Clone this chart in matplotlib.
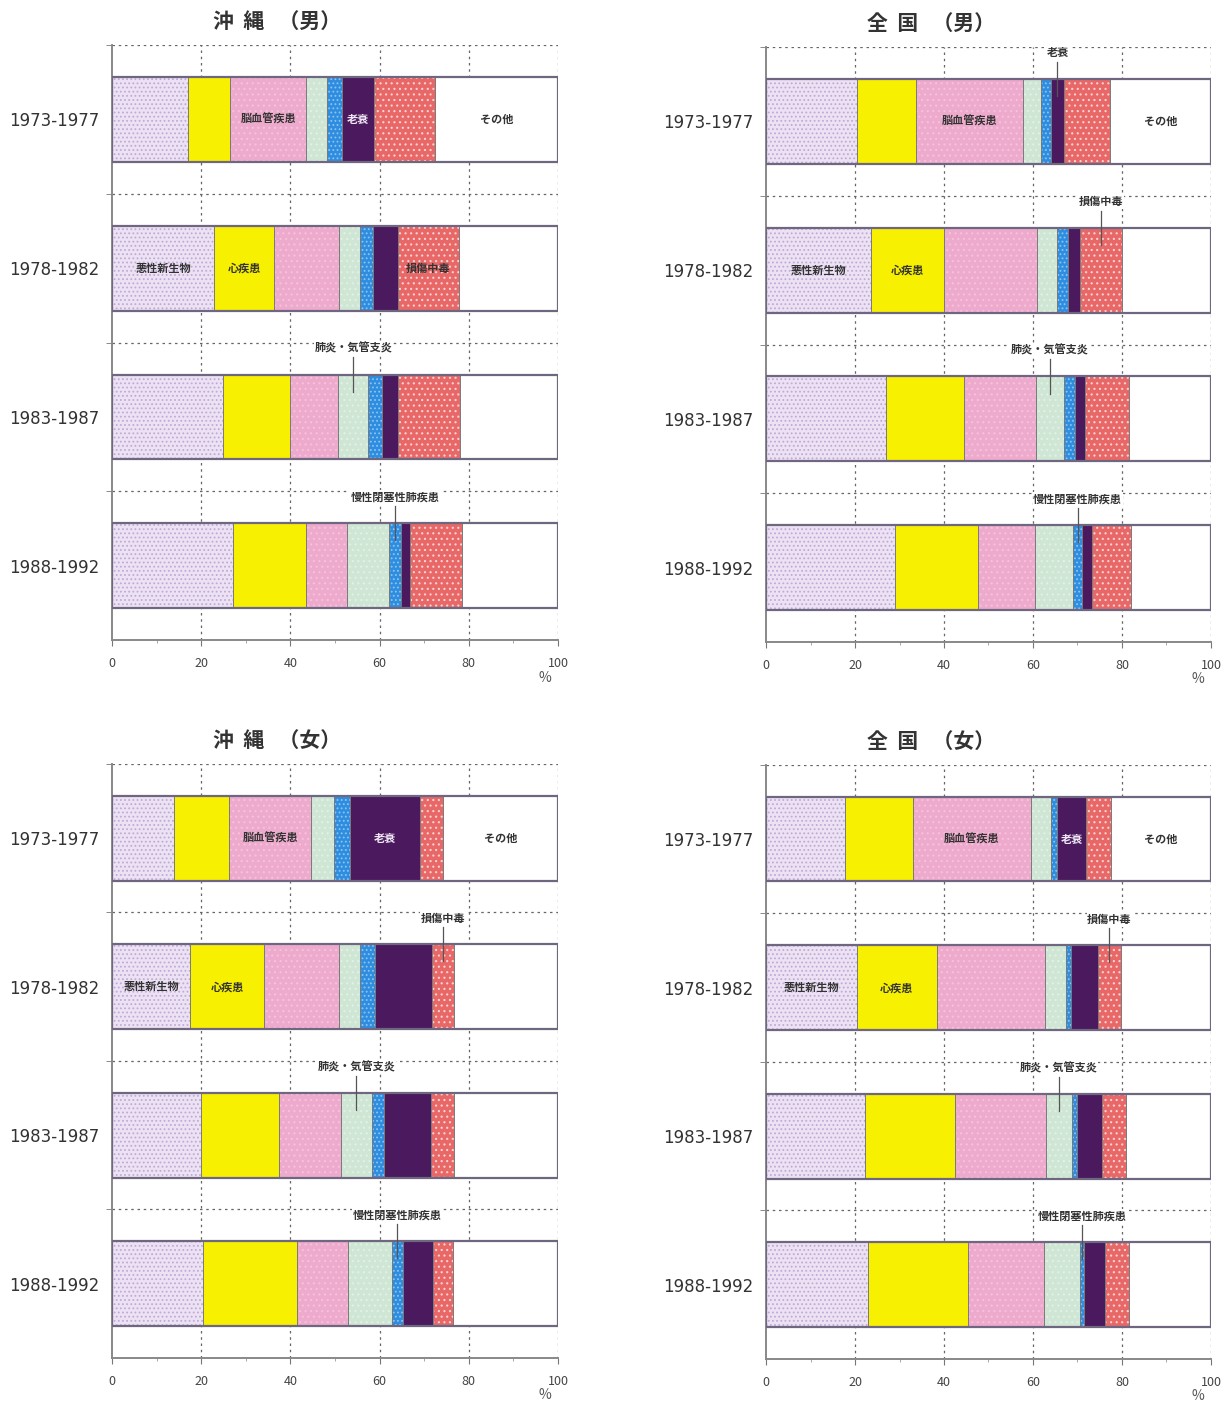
import numpy as np
import matplotlib
matplotlib.use('Agg')
import matplotlib.pyplot as plt

plt.rcParams['font.family'] = ['Noto Sans CJK JP', 'DejaVu Sans']
plt.rcParams['hatch.linewidth'] = 0.8

# --- data (shares in %) ---
periods = ['1973-1977', '1978-1982', '1983-1987', '1988-1992']
causes = ['悪性新生物', '心疾患', '脳血管疾患', '肺炎・気管支炎',
          '慢性閉塞性肺疾患', '老衰', '損傷中毒', 'その他']

okinawa_male = [[17.0, 9.4, 17.2, 4.6, 3.3, 7.3, 13.7, 27.5],
                [22.9, 13.4, 14.5, 4.7, 3.1, 5.6, 13.5, 22.3],
                [24.9, 15.0, 10.8, 6.8, 3.0, 3.7, 13.9, 21.9],
                [27.2, 16.4, 9.0, 9.5, 2.7, 1.9, 11.8, 21.5]]
japan_male = [[20.4, 13.4, 24.0, 3.9, 2.4, 2.8, 10.5, 22.6],
              [23.7, 16.3, 20.8, 4.7, 2.3, 2.7, 9.6, 19.9],
              [26.9, 17.7, 16.0, 6.3, 2.5, 2.3, 9.9, 18.4],
              [29.0, 18.7, 12.7, 8.6, 2.1, 2.1, 8.9, 17.9]]
okinawa_female = [[14.0, 12.2, 18.5, 5.0, 3.6, 15.7, 5.1, 25.9],
                  [17.6, 16.4, 16.9, 4.8, 3.2, 12.9, 4.9, 23.3],
                  [19.9, 17.5, 14.0, 6.8, 2.8, 10.5, 5.1, 23.4],
                  [20.5, 21.0, 11.3, 9.9, 2.5, 6.7, 4.5, 23.6]]
japan_female = [[17.7, 15.4, 26.4, 4.5, 1.4, 6.5, 5.6, 22.5],
                [20.4, 18.0, 24.3, 4.8, 1.0, 6.2, 5.0, 20.3],
                [22.3, 20.1, 20.5, 5.8, 1.1, 5.7, 5.3, 19.2],
                [23.0, 22.5, 17.0, 8.0, 1.0, 4.8, 5.3, 18.4]]

# styles per cause: face, hatch, hatch colour
face_colors = ['#ece2f3', '#f7f000', '#eeaacd', '#cfe6d5',
               '#2f8de0', '#4b1a5e', '#e86868', '#ffffff']
hatches = ['....', None, '...', '...', '....', None, '...', None]
hatch_colors = ['#bfaad6', None, '#f4c2da', '#e2f0e6',
                '#8cc4f2', None, '#fbd2d2', None]

# labels: (period, cause, 'in' or 'up')
labels_okinawa_male = [(0, 2, 'in'), (0, 5, 'in'), (0, 7, 'in'),
                       (1, 0, 'in'), (1, 1, 'in'), (1, 6, 'in'),
                       (2, 3, 'up'), (3, 4, 'up')]
labels_japan_male = [(0, 2, 'in'), (0, 5, 'up'), (0, 7, 'in'),
                     (1, 0, 'in'), (1, 1, 'in'), (1, 6, 'up'),
                     (2, 3, 'up'), (3, 4, 'up')]
labels_okinawa_female = [(0, 2, 'in'), (0, 5, 'in'), (0, 7, 'in'),
                         (1, 0, 'in'), (1, 1, 'in'), (1, 6, 'up'),
                         (2, 3, 'up'), (3, 4, 'up')]
labels_japan_female = [(0, 2, 'in'), (0, 5, 'in'), (0, 7, 'in'),
                       (1, 0, 'in'), (1, 1, 'in'), (1, 6, 'up'),
                       (2, 3, 'up'), (3, 4, 'up')]

BAR_H = 0.57
GRID_C = '#666666'


def draw_panel(ax, data, labels, title):
    data = np.array(data)
    ypos = np.arange(len(periods))
    left = np.zeros(len(periods))

    # grid first
    for x in [20, 40, 60, 80, 100]:
        ax.axvline(x, color=GRID_C, ls=(0, (2, 3)), lw=0.9, zorder=0)
    for y in [-0.5, 0.5, 1.5, 2.5]:
        ax.axhline(y, color=GRID_C, ls=(0, (2, 3)), lw=0.9, zorder=0)

    for j in range(len(causes)):
        vals = data[:, j]
        ax.barh(ypos, vals, left=left, height=BAR_H, color=face_colors[j],
                hatch=hatches[j], edgecolor=hatch_colors[j] or face_colors[j],
                linewidth=0, zorder=2)
        ax.barh(ypos, vals, left=left, height=BAR_H, fill=False,
                edgecolor='#7a7a7a', linewidth=0.6, zorder=3)
        left = left + vals
    # outer frame of each bar
    ax.barh(ypos, left, height=BAR_H, fill=False, edgecolor='#6f6680',
            linewidth=1.6, zorder=4)

    cum = np.cumsum(data, axis=1) - data
    for (i, j, mode) in labels:
        xc = cum[i, j] + data[i, j] / 2
        if mode == 'in':
            col = '#f0e8f4' if j == 5 else '#333333'
            ax.text(xc, i, causes[j], ha='center', va='center', fontsize=8,
                    color=col, fontweight='bold', zorder=5)
        else:
            ax.text(xc, i - 0.46, causes[j], ha='center', va='center',
                    fontsize=8, color='#333333', fontweight='bold', zorder=5,
                    bbox=dict(facecolor='white', edgecolor='none', pad=0.5))
            ax.plot([xc, xc], [i - 0.40, i - 0.17], color='#555555', lw=0.9,
                    zorder=5)

    ax.set_xlim(0, 100)
    ax.set_ylim(3.5, -0.5)
    ax.set_xticks([0, 20, 40, 60, 80, 100])
    ax.set_xticks([10, 30, 50, 70, 90], minor=True)
    ax.set_yticks(ypos)
    ax.set_yticklabels(periods, fontsize=12, color='#333333',
                       family='DejaVu Sans')
    ax.set_yticks([-0.5, 0.5, 1.5, 2.5], minor=True)
    ax.tick_params(axis='y', which='major', length=0, pad=9)
    ax.tick_params(axis='y', which='minor', length=4, color='#777777')
    ax.tick_params(axis='x', which='major', length=4, labelsize=9,
                   color='#777777', labelcolor='#444444', pad=8)
    ax.tick_params(axis='x', which='minor', length=2, color='#999999')
    for s in ['top', 'right']:
        ax.spines[s].set_visible(False)
    for s in ['left', 'bottom']:
        ax.spines[s].set_color('#888888')
        ax.spines[s].set_linewidth(1.4)
    ax.text(0.97, -0.063, '%', transform=ax.transAxes, ha='center',
            va='center', fontsize=10, color='#555555')
    ax.text(0.37, 1.039, title, transform=ax.transAxes, ha='center',
            va='center', fontsize=15, fontweight='bold', color='#333333')


fig = plt.figure(figsize=(12.29, 14.03), dpi=100)
ax1 = fig.add_axes([0.0911, 0.5438, 0.363, 0.4241])
ax2 = fig.add_axes([0.6233, 0.5424, 0.362, 0.4241])
ax3 = fig.add_axes([0.0911, 0.0321, 0.363, 0.4234])
ax4 = fig.add_axes([0.6233, 0.0314, 0.362, 0.4234])

draw_panel(ax1, okinawa_male, labels_okinawa_male, '沖  縄   （男）')
draw_panel(ax2, japan_male, labels_japan_male, '全  国   （男）')
draw_panel(ax3, okinawa_female, labels_okinawa_female, '沖  縄   （女）')
draw_panel(ax4, japan_female, labels_japan_female, '全  国   （女）')

fig.savefig('out.png', dpi=100)
